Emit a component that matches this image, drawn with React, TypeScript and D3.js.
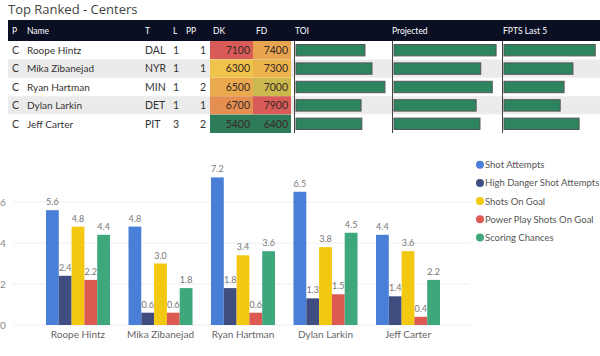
import React from "react";
import * as d3 from "d3";

const players = ["Roope Hintz", "Mika Zibanejad", "Ryan Hartman", "Dylan Larkin", "Jeff Carter"];
const positions = ["C", "C", "C", "C", "C"];
const teams = ["DAL", "NYR", "MIN", "DET", "PIT"];
const lines = [1, 1, 1, 1, 3];
const ppUnits = [1, 1, 2, 1, 2];
const dkSalary = [7100, 6300, 6500, 6700, 5400];
const fdSalary = [7400, 7300, 7000, 7900, 6400];
const toi = [17.6, 19.4, 22.7, 16.6, 16.8];
const projected = [13.3, 11.3, 12.8, 10.7, 11.2];
const fptsLast5 = [16.4, 12.4, 10.8, 10.1, 13.5];

const seriesNames = [
  "Shot Attempts",
  "High Danger Shot Attempts",
  "Shots On Goal",
  "Power Play Shots On Goal",
  "Scoring Chances",
];
const shotAttempts = [5.6, 4.8, 7.2, 6.5, 4.4];
const highDanger = [2.4, 0.6, 1.8, 1.3, 1.4];
const shotsOnGoal = [4.8, 3.0, 3.4, 3.8, 3.6];
const ppShotsOnGoal = [2.2, 0.6, 0.6, 1.5, 0.4];
const scoringChances = [4.4, 1.8, 3.6, 4.5, 2.2];
const seriesValues = [shotAttempts, highDanger, shotsOnGoal, ppShotsOnGoal, scoringChances];
const seriesColors = ["#4a7fd8", "#3f4d80", "#f2c811", "#dd5a52", "#3fa77c"];
const yTicks = [0, 2, 4, 6];

const headers = ["P", "Name", "T", "L", "PP", "DK", "FD", "TOI", "Projected", "FPTS Last 5"];

const FONT = "Lato, 'Noto Sans', sans-serif";
const TITLE_FONT = "'Open Sans', 'Noto Sans', sans-serif";

export default function App() {
  const W = 600;
  const H = 356;

  // table geometry
  const headerTop = 20;
  const headerH = 21;
  const rowTop = 41;
  const rowH = 18.4;
  const headerX = [12, 27, 145, 173, 186, 213, 256, 295, 392, 503];

  const green = "#2e7b5a";
  const yellow = "#f2c94a";
  const red = "#d85b58";
  const mkColor = (vals: number[]) => {
    const [mn, mx] = d3.extent(vals) as [number, number];
    return d3
      .scaleLinear<string>()
      .domain([mn, (mn + mx) / 2, mx])
      .range([green, yellow, red])
      .interpolate(d3.interpolateRgb);
  };
  const dkColor = mkColor(dkSalary);
  const fdColor = mkColor(fdSalary);

  const toiScale = d3.scaleLinear().domain([0, 24.5]).range([0, 96]);
  const projScale = d3.scaleLinear().domain([0, 14.2]).range([0, 109]);
  const fptsScale = d3.scaleLinear().domain([0, 16.9]).range([0, 94]);
  const barCols = [
    { x: 295, vals: toi, s: toiScale },
    { x: 393, vals: projected, s: projScale },
    { x: 503, vals: fptsLast5, s: fptsScale },
  ];

  // bar chart geometry
  const y = d3.scaleLinear().domain([0, 8]).range([325, 161]);
  const x0 = d3
    .scaleBand<string>()
    .domain(players)
    .range([36.75, 449.25])
    .paddingInner(0.224)
    .paddingOuter(0.112);
  const x1 = d3.scaleBand<string>().domain(seriesNames).range([0, x0.bandwidth()]);

  return (
    <svg width={W} height={H} style={{ position: "absolute", left: 0, top: 0, background: "#fff" }} fontFamily={FONT}>
      <text x={8} y={14} fontSize={13} fill="#444" fontFamily={TITLE_FONT}>Top Ranked - Centers</text>

      {/* header */}
      <rect x={8} y={headerTop} width={592} height={headerH} fill="#0b0f24" />
      {headers.map((h, i) => (
        <text key={h} x={headerX[i]} y={headerTop + headerH / 2 + 3.2} fontSize={8.5} fill="#fff">
          {h}
        </text>
      ))}

      {/* rows */}
      {players.map((p, i) => {
        const ry = rowTop + i * rowH;
        const cy = ry + rowH / 2 + 3.8;
        return (
          <g key={p}>
            <rect x={8} y={ry} width={592} height={rowH} fill={i % 2 === 1 ? "#ebebeb" : "#fff"} />
            <rect x={210} y={ry} width={43} height={rowH} fill={dkColor(dkSalary[i])} />
            <rect x={253} y={ry} width={38} height={rowH} fill={fdColor(fdSalary[i])} />
            <text x={12} y={cy} fontSize={10.5} fill="#333">{positions[i]}</text>
            <text x={27} y={cy} fontSize={10} fill="#333">{p}</text>
            <text x={145} y={cy} fontSize={10.5} fill="#333">{teams[i]}</text>
            <text x={176} y={cy} fontSize={10.5} fill="#333" textAnchor="middle">{lines[i]}</text>
            <text x={206} y={cy} fontSize={10.5} fill="#333" textAnchor="end">{ppUnits[i]}</text>
            <text x={250} y={cy} fontSize={10.5} fill="#3a2a26" textAnchor="end">{dkSalary[i]}</text>
            <text x={288} y={cy} fontSize={10.5} fill="#3a2a26" textAnchor="end">{fdSalary[i]}</text>
            {barCols.map((c, j) => (
              <rect
                key={j}
                x={c.x + 1}
                y={ry + 3.5}
                width={c.s(c.vals[i])}
                height={rowH - 7}
                fill="#2d8560"
                stroke="#555"
                strokeWidth={1}
              />
            ))}
          </g>
        );
      })}
      {barCols.map((c, j) => (
        <line key={j} x1={c.x - 0.5} x2={c.x - 0.5} y1={rowTop} y2={rowTop + rowH * 5} stroke="#444" strokeWidth={1} />
      ))}

      {/* bar chart */}
      {yTicks.map((t) => (
        <g key={t}>
          <line x1={13} x2={470} y1={y(t)} y2={y(t)} stroke="#eeeeee" strokeWidth={1} />
          <text x={3} y={y(t) + 3.5} fontSize={10} fill="#888" textAnchor="middle">{t}</text>
        </g>
      ))}
      {players.map((p, i) => (
        <g key={p} transform={`translate(${x0(p)},0)`}>
          {seriesNames.map((s, k) => {
            const v = seriesValues[k][i];
            const bx = x1(s)!;
            return (
              <g key={s}>
                <rect x={bx} y={y(v)} width={x1.bandwidth()} height={y(0) - y(v)} fill={seriesColors[k]} />
                <text
                  x={bx + x1.bandwidth() / 2}
                  y={y(v) - 5}
                  fontSize={9}
                  fill="#777"
                  textAnchor="middle"
                >
                  {v.toFixed(1)}
                </text>
              </g>
            );
          })}
          <text x={x0.bandwidth() / 2} y={338} fontSize={10} fill="#666" textAnchor="middle">{p}</text>
        </g>
      ))}

      {/* legend */}
      {seriesNames.map((s, k) => (
        <g key={s} transform={`translate(480,${164.7 + k * 18.2})`}>
          <circle r={4} fill={seriesColors[k]} />
          <text x={5} y={3.5} fontSize={9.5} fill="#555">{s}</text>
        </g>
      ))}
    </svg>
  );
}
